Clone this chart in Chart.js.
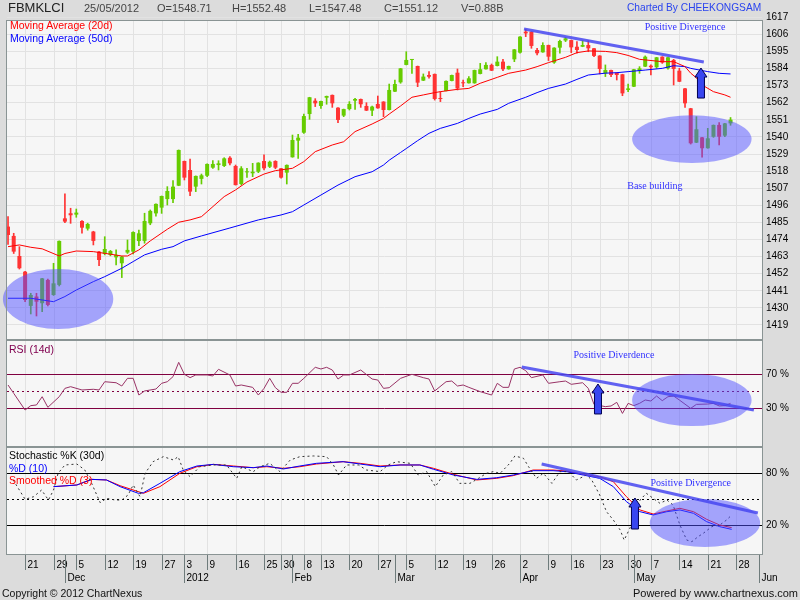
<!DOCTYPE html>
<html><head><meta charset="utf-8">
<script src="https://cdn.jsdelivr.net/npm/chart.js@4.4.1/dist/chart.umd.min.js"></script>
<style>
html,body{margin:0;padding:0;background:#dcdcdc;}
#wrap{position:relative;width:800px;height:600px;overflow:hidden;background:#dcdcdc;font-family:"Liberation Sans",Arial,sans-serif;}
canvas{position:absolute;left:0;}
.t{position:absolute;white-space:nowrap;line-height:1;}
</style></head><body>
<div id="wrap">
<canvas id="cMain" width="800" height="340" style="top:0;width:800px;height:340px"></canvas>
<canvas id="cRsi" width="800" height="107" style="top:340px;width:800px;height:107px"></canvas>
<canvas id="cSto" width="800" height="153" style="top:447px;width:800px;height:153px"></canvas>
<div class="t" style="left:8px;top:1px;font-size:13px;color:#222">FBMKLCI</div>
<div class="t" style="left:84px;top:3px;font-size:11px;color:#444">25/05/2012</div>
<div class="t" style="left:157px;top:3px;font-size:11px;color:#444">O=1548.71</div>
<div class="t" style="left:232px;top:3px;font-size:11px;color:#444">H=1552.48</div>
<div class="t" style="left:309px;top:3px;font-size:11px;color:#444">L=1547.48</div>
<div class="t" style="left:384px;top:3px;font-size:11px;color:#444">C=1551.12</div>
<div class="t" style="left:461px;top:3px;font-size:11px;color:#444">V=0.88B</div>
<div class="t" style="left:627px;top:3px;font-size:10.2px;color:#2a44ee">Charted By CHEEKONGSAM</div>
<div class="t" style="left:10px;top:20px;font-size:10.5px;color:#ff0000">Moving Average (20d)</div>
<div class="t" style="left:10px;top:33px;font-size:10.5px;color:#0000ff">Moving Average (50d)</div>
<div class="t" style="left:9px;top:344px;font-size:10.5px;color:#800050">RSI (14d)</div>
<div class="t" style="left:9px;top:450px;font-size:10.5px;color:#000">Stochastic %K (30d)</div>
<div class="t" style="left:9px;top:463px;font-size:10.5px;color:#0000ff">%D (10)</div>
<div class="t" style="left:9px;top:475px;font-size:10.5px;color:#ff0000">Smoothed %D (3)</div>
<div class="t" style="left:2px;top:588px;font-size:10.5px;color:#111">Copyright © 2012 ChartNexus</div>
<div class="t" style="right:2px;top:588px;font-size:11px;color:#111">Powered by www.chartnexus.com</div>
</div>
<script>
// ---------- DATA ----------
// trading-day index 0 = 16 Nov 2011 ... 127 = 25 May 2012 (axis runs to 1 Jun 2012 = 132)
const dayTickIdx    = [3,8,12,17,22,27,31,35,40,45,48,52,55,60,65,70,75,80,85,90,95,99,104,109,113,118,123,128];
const dayTickLabels = ['21','29','5','12','19','27','3','9','16','25','30','8','13','20','27','5','12','19','26','2','9','16','23','30','7','14','21','28'];
const monthTickIdx    = [10,31,50,68,90,110,132];
const monthTickLabels = ['Dec','2012','Feb','Mar','Apr','May','Jun'];
const priceTicks = [1617,1606,1595,1584,1573,1562,1551,1540,1529,1518,1507,1496,1485,1474,1463,1452,1441,1430,1419];
const rsiTicks = [30,70];
const stoTicks = [20,80];

const opens = [1482.3,1476.3,1463.4,1453.3,1431.3,1437.3,1433,1448,1438.3,1444.8,
 1487.6,1490.9,1490,1485.9,1481,1479.1,1466.2,1464.7,1464.1,1462.5,
 1458.7,1465.6,1466.2,1473,1473.1,1484.4,1490.8,1494.5,1500,1500,
 1508.6,1524.5,1518.7,1508,1513,1515,1520.2,1521.9,1521.3,1526.6,
 1521.3,1509.7,1517.2,1516.6,1517.6,1524.5,1520.8,1524.5,1519.8,1517,
 1526.9,1537.6,1542.7,1554.7,1563.3,1559.9,1565.2,1567,1558.8,1553.7,
 1557.9,1563.3,1564.4,1559.9,1556.9,1561.2,1562.7,1557.3,1569.1,1575.1,
 1586.3,1589.5,1585.6,1576.2,1579.8,1580.5,1564.8,1569.5,1576,1581.3,
 1574.9,1574.5,1574.5,1580.5,1583.5,1586.3,1585.6,1588.4,1583.5,1589.9,
 1594.2,1607.7,1607.7,1595.9,1594.4,1599.1,1587.8,1597.4,1602,1602.3,
 1598,1598,1599.1,1597,1592.3,1580.9,1583,1581.3,1580.3,1570.2,
 1572.3,1582.6,1585.2,1585.8,1584.8,1591.6,1584.1,1589.5,1582.6,1571.2,
 1558.4,1536.3,1539.7,1532.7,1540.1,1547.7,1540.8,1548.71];
const highs = [1488.7,1478,1469.4,1453.5,1439.4,1439.4,1449,1448.5,1458.7,1473.1,
 1503.3,1494.1,1493.6,1486.2,1484.5,1479.3,1466.4,1475.8,1467,1467.3,
 1463.2,1473.7,1479,1480,1490.9,1493,1497,1502,1508,1511.9,
 1531.6,1524.5,1525.8,1514.9,1516.1,1522.6,1524.7,1524.7,1526.6,1527.3,
 1521.9,1520.9,1519.8,1523,1523.4,1528.4,1524.5,1524.7,1519.8,1522,
 1541.2,1541.7,1554.7,1565.5,1564.6,1563.1,1566.3,1567,1558.8,1557.9,
 1562.7,1564.8,1564.4,1562,1559.9,1566.3,1562.7,1574,1576.6,1584.1,
 1594.8,1589.9,1585.6,1580.5,1582,1580.5,1569.1,1576,1579.8,1583.7,
 1576.6,1578.8,1583,1587.3,1587.8,1586.9,1591.6,1589.9,1585.6,1596.3,
 1604.5,1609.2,1607.7,1597,1600.6,1599.1,1597.4,1602.3,1604,1602.3,
 1601.3,1601.9,1601.9,1597,1592.3,1586.3,1583,1581.3,1580.3,1574,
 1583.5,1585.2,1592.1,1586.3,1591.2,1591.6,1591.2,1589.9,1584.1,1571.2,
 1558.4,1553,1539.7,1545.5,1547.7,1549.2,1548.7,1552.48];
const lows = [1470.9,1465,1455,1434,1426.1,1424.8,1427.6,1431.3,1438,1444.1,
 1484.9,1484.4,1488.3,1478,1480,1470.5,1457.2,1464.1,1463.5,1457.6,
 1449.5,1465,1464.7,1470,1471.6,1483.5,1489,1490.8,1496.2,1497.7,
 1508.6,1512.3,1502.2,1504.8,1509.7,1514.4,1519.8,1518.7,1520.9,1521.9,
 1509,1509,1514,1514.4,1517,1518.7,1520.2,1519.5,1513.4,1509.7,
 1526.9,1526.2,1542.3,1551.3,1559.5,1558.4,1561,1559,1549.2,1553,
 1557.3,1557.7,1559,1556.9,1553.7,1558.4,1553,1557.3,1569.1,1574.5,
 1586.3,1580.9,1572.3,1576.2,1577.7,1563.7,1562.7,1569.5,1576,1570.2,
 1572.3,1574.5,1574.5,1580.5,1583.5,1582.6,1585.6,1582.6,1583.5,1588.4,
 1593.8,1604.5,1597,1592.7,1594.4,1589.1,1587.3,1593.8,1601.3,1594.2,
 1593.8,1598,1594.8,1591.6,1580.5,1578.8,1578.8,1576.6,1566.5,1569.1,
 1572.3,1580.9,1585.2,1579.8,1584.1,1587.3,1583.5,1573.4,1575.5,1559,
 1535.4,1536.3,1526.9,1532.7,1539.7,1534.8,1540.1,1547.48];
const closes = [1476.9,1466.2,1455.5,1435.1,1438.3,1434,1449,1431.9,1445.8,1473.1,
 1485.5,1489.6,1491.3,1481.6,1484,1473.1,1460.8,1467.9,1466.6,1464.1,
 1463,1467.3,1478.8,1478,1485.9,1492.4,1496.9,1502,1505.2,1508,
 1531.6,1513.8,1504.8,1514.9,1515.3,1522.6,1522.6,1523,1526.2,1523,
 1509,1519.8,1517.8,1517.6,1523.4,1519.8,1524,1520.2,1513.8,1522,
 1538,1539.5,1553.4,1565.5,1561.6,1563.1,1566.3,1561.6,1550.9,1557.9,
 1561.2,1564.4,1561,1556.9,1559.5,1558.4,1557.3,1570.2,1574,1584.1,
 1589.5,1589.9,1574.9,1578.8,1578.7,1564.4,1564.4,1576,1579.8,1571.2,
 1574.5,1577.7,1583,1583.5,1586.3,1582.6,1588.4,1583.5,1585.6,1596.3,
 1604.5,1606.6,1598.5,1593.8,1599.1,1591.6,1597.4,1601.7,1603.4,1597.6,
 1595.9,1599.1,1597,1592.1,1583.7,1583,1579.8,1579.8,1568,1571.2,
 1583.5,1584.1,1591.6,1584.8,1591.2,1587.8,1591.2,1583.7,1575.5,1561.6,
 1535.9,1544.9,1532.7,1539.1,1547.7,1540.1,1548.7,1551.12];

const ma20Idx = [0,2,4,6,9,10,12,15,17,20,21,23,25,28,30,32,34,35,38,40,42,45,47,50,52,54,57,59,61,64,66,67,69,71,73,75,76,79,81,83,86,88,91,93,95,98,100,102,105,107,109,111,115,117,119,120,121,122,124,126,127];
const ma20Val = [1469.4,1470.5,1469,1468,1463.4,1465,1466.6,1466.2,1465.1,1463.4,1463.4,1467.3,1473.1,1480.6,1485.1,1486.6,1488.7,1491.9,1501.6,1505.9,1511,1516.1,1518.3,1519.8,1524.1,1530.5,1534.8,1536.9,1543.4,1548.3,1551.9,1554.7,1559.9,1565.5,1567,1568.5,1569.1,1570.6,1571.2,1574.5,1578.3,1580.9,1583,1585.2,1587.8,1591.2,1594.2,1595.3,1595,1594.2,1592.4,1589.9,1588.4,1588.4,1585.2,1581,1578,1573.4,1569.1,1567,1565.5];
const ma50Idx = [0,4,8,10,12,15,17,20,22,24,27,29,31,34,39,44,48,50,52,55,58,61,64,66,67,69,70,72,74,76,79,81,83,86,88,91,93,95,98,100,102,105,107,109,112,115,117,119,120,123,125,127];
const ma50Val = [1436.2,1436.2,1434,1437.3,1441.5,1446.9,1450.1,1455.5,1459.8,1464.1,1467.7,1469.4,1473.1,1476.3,1481.4,1486.6,1489.8,1491.9,1496.2,1502.6,1509,1514.4,1517.6,1521.9,1525,1530,1532.5,1537.6,1542.3,1545.5,1548.7,1551.9,1554.7,1557.7,1561.6,1565.5,1568.5,1571.2,1574,1577,1579.8,1581,1581.3,1582,1583,1584.1,1585.8,1585.2,1584.1,1582,1580.9,1580.5];

const rsiIdx = [0,1,3,4,5,6,7,9,10,11,13,15,16,17,19,20,21,22,23,24,26,27,28,29,30,31,32,33,35,36,37,39,40,41,43,44,45,46,47,48,49,50,51,52,54,55,56,57,58,59,60,62,64,65,66,67,69,71,73,74,75,77,78,79,80,81,83,85,86,87,88,89,90,91,92,94,95,97,98,99,101,102,103,105,106,107,108,109,110,111,112,113,114,115,116,117,118,120,121,123,124,125,126,127];
const rsiVal = [57.3,47.4,27.6,32.8,33.6,43.4,30.8,43.4,53.3,55.3,51.4,52.2,51.4,61.2,60,56.1,65.2,65.2,45.4,50.2,52.5,59.3,61.2,67.2,84.2,70,66,69.2,69.2,68,75.9,69.2,56.1,57.3,54.5,45.4,53.3,65.2,54.1,48.6,48.6,59.3,59.3,65.2,78.3,76.3,78.3,75.1,64.4,69.2,69.2,75.1,64.4,63.2,53.3,54.1,65.2,70,66,64.4,50.2,61.2,62,56.1,57.3,54.5,49.4,45.4,59.3,54.5,54.5,76.3,78.3,74.3,66,69.2,59.3,61.2,62,58.1,60,53.3,34.3,31.6,32.4,36.7,23.6,35.5,32.8,35.5,39.5,38.3,44.2,38.7,43.4,44.2,39.5,29.6,34.3,34.7,35.5,32.4,32.8,35.5];

const stoKIdx = [0.9,3,4.5,5.9,7.1,8,8.8,10,12.1,13.5,14.7,16.2,17.3,18.8,20,21.1,22,23.2,24.1,25.5,27.3,29.1,29.9,30.8,32,33.7,36.1,38.4,40.2,41.1,43.1,44.3,46,47.8,49.6,51.3,53.7,56,57.2,58.1,59.5,61.6,63,65.4,66.8,68.3,70.7,72.1,73.6,75.1,76.5,78,79.4,81.2,82.7,84.1,85.3,86.5,88.2,89.1,90.6,91.5,92.9,94.1,95.6,97,98.5,99.9,101.7,102.6,104,105.2,106.4,107.6,108.3,109.3,110.2,111.1,112.2,113.4,114.6,115.8,116.9,118.1,119.3,120.2,121.3,122.2,123.7,125.1,126.3,127.2];
const stoKVal = [72.3,50,53,60.7,49.2,60.7,80,89.6,90.7,83.8,68.4,46.1,51.1,49.2,49.2,55,66.5,53,80,93.4,99.2,95.3,99.2,83.8,76.1,87.6,89.6,89.6,74.2,87.6,81.9,87.6,91.5,81.9,95.3,99.2,100,99.2,89.6,78,89.6,89.6,83.8,81.9,89.6,93.4,91.5,78,81.9,64.6,78,81.9,68.4,68.4,74.2,80,81.9,80,91.5,100,97.3,87.6,74.2,80,68.4,81.9,81.9,72.3,78,72.3,55,35.7,26.1,14.6,3,16.5,31.9,49.2,56.9,51.1,45.3,49.2,43.4,20.3,3,1.1,6.9,10.7,18.4,20.3,26.1,31.9];
const stoDIdx = [8,12.1,14.7,17.3,19.7,22.9,23.8,26.7,30.2,33.2,36.1,39.6,43.1,45.5,48.4,51.3,54.2,58.9,61.9,65.4,68.9,72.4,74.8,78.3,82.4,85.9,88.8,92.3,95.8,98.2,101.1,104,106.4,108.7,111.1,113.4,115.8,118.1,120.5,122.8,125.1,127.2];
const stoDVal = [64.6,66.5,73,72.3,64.6,56.9,57.6,68.4,81.9,88.4,90.3,87.6,86.5,88.4,85,88.4,91.5,93.4,90.7,87.6,89.6,89.6,84.6,78,73,74.9,78,83,83,81.9,78,74.2,64.6,47.3,35.7,31.9,35.7,37.7,33.8,24.2,18.4,15.3];
const stoSDIdx = [8,12.1,14.7,17.3,19.7,23.8,26.7,30.2,33.2,36.1,39.6,43.1,45.5,48.4,51.3,54.2,58.9,61.9,65.4,68.9,72.4,74.8,78.3,82.4,85.9,88.8,92.3,95.8,98.2,101.1,104,106.4,108.7,111.1,113.4,115.8,118.1,120.5,122.8,125.1,127.2];
const stoSDVal = [64.6,66.5,73,72.3,65.7,56.9,64.6,80,87.6,90.3,88.4,86.5,87.6,85.7,87.6,90.7,93.4,91.5,88.4,89.6,89.6,85.7,78.8,72.3,74.2,77.3,83.8,83.8,82.6,78.8,76.1,70.3,53,37.7,33,36.5,39.6,35.7,26.9,20.3,17.3];

// ---------- STYLE / LAYOUT ----------
const GREEN = '#66cc00', RED = '#ff3333';
const FONT = '"Liberation Sans", Arial, sans-serif';
const X_MIN = -0.18, X_MAX = 132.53;
const FRAME = '#8a9494';
const GRID = '#e2e2e2';
const PLOT_BG = '#f6f6f6';
const SHADE = 'rgba(80,80,255,0.5)';
const TREND = 'rgba(70,70,240,0.85)';

function pts(ix, vals){ return ix.map((x,k)=>({x:x, y:vals[k]})); }
function xCfg(){ return {type:'linear', min:X_MIN, max:X_MAX, display:false, offset:false}; }
function yCfg(min, max, ticks, fmt, showGrid){
  return {type:'linear', position:'right', min:min, max:max,
    afterBuildTicks: s => { s.ticks = ticks.map(v => ({value:v})); },
    afterFit: s => { s.width = 38; s.paddingTop = 0; s.paddingBottom = 0; },
    ticks:{callback:fmt, color:'#000', font:{family:FONT, size:10}, padding:4, autoSkip:false},
    grid:{display:showGrid, color:GRID, drawTicks:false},
    border:{display:false}};
}
function px(ch, xv){ return ch.scales.x.getPixelForValue(xv); }
function py(ch, yv){ return ch.scales.y.getPixelForValue(yv); }

function hline(ctx, a, y, color, dash){
  ctx.save(); ctx.strokeStyle=color; ctx.lineWidth=1; ctx.setLineDash(dash||[]);
  const yy=Math.round(y)+0.5; ctx.beginPath(); ctx.moveTo(a.left,yy); ctx.lineTo(a.right,yy); ctx.stroke(); ctx.restore();
}
function ellipse(ch, cx, cy, rxv, ryv){
  const ctx=ch.ctx, X=px(ch,cx), Y=py(ch,cy);
  const rx=Math.abs(px(ch,cx+rxv)-X), ry=Math.abs(py(ch,cy+ryv)-Y);
  ctx.save(); ctx.fillStyle=SHADE; ctx.beginPath(); ctx.ellipse(X,Y,rx,ry,0,0,Math.PI*2); ctx.fill(); ctx.restore();
}
function trend(ch, x1,y1,x2,y2){
  const ctx=ch.ctx; ctx.save(); ctx.strokeStyle=TREND; ctx.lineWidth=3; ctx.lineCap='butt';
  ctx.beginPath(); ctx.moveTo(px(ch,x1),py(ch,y1)); ctx.lineTo(px(ch,x2),py(ch,y2)); ctx.stroke(); ctx.restore();
}
function arrow(ch, xv, tipV, baseV){
  const ctx=ch.ctx, X=px(ch,xv), T=py(ch,tipV), B=py(ch,baseV), hw=6, sw=3.5, hh=9;
  ctx.save(); ctx.beginPath();
  ctx.moveTo(X,T); ctx.lineTo(X+hw,T+hh); ctx.lineTo(X+sw,T+hh); ctx.lineTo(X+sw,B);
  ctx.lineTo(X-sw,B); ctx.lineTo(X-sw,T+hh); ctx.lineTo(X-hw,T+hh); ctx.closePath();
  ctx.fillStyle='#3846f0'; ctx.fill(); ctx.strokeStyle='#000050'; ctx.lineWidth=1; ctx.stroke(); ctx.restore();
}
function note(ch, txt, xv, yv){
  const ctx=ch.ctx; ctx.save(); ctx.font='10px "Liberation Serif", "Times New Roman", serif';
  ctx.fillStyle='#3030ff'; ctx.textAlign='center'; ctx.textBaseline='middle';
  ctx.fillText(txt, px(ch,xv), py(ch,yv)); ctx.restore();
}

function panelPlugin(refLines, annot, drawAxis){
  return {
    id:'panel',
    beforeDraw(ch){
      const ctx=ch.ctx, a=ch.chartArea;
      ctx.save(); ctx.fillStyle=PLOT_BG; ctx.fillRect(a.left,a.top,a.right-a.left,a.bottom-a.top);
      ctx.strokeStyle=GRID; ctx.lineWidth=1;
      dayTickIdx.forEach(i=>{ const x=Math.round(px(ch,i))+0.5; ctx.beginPath(); ctx.moveTo(x,a.top); ctx.lineTo(x,a.bottom); ctx.stroke(); });
      ctx.restore();
    },
    beforeDatasetsDraw(ch){
      const a=ch.chartArea;
      refLines.forEach(r=>hline(ch.ctx, a, py(ch,r.v), r.c, r.d));
    },
    afterDatasetsDraw(ch){ annot(ch); },
    afterDraw(ch){
      const ctx=ch.ctx, a=ch.chartArea;
      ctx.save(); ctx.strokeStyle=FRAME; ctx.lineWidth=1;
      ctx.strokeRect(Math.round(a.left)-0.5, Math.round(a.top)+0.5, Math.round(a.right-a.left)+1, Math.round(a.bottom-a.top)-1);
      ctx.restore();
      if(drawAxis){
        ctx.save(); ctx.strokeStyle='#6e7b7b'; ctx.fillStyle='#000'; ctx.lineWidth=1;
        ctx.font='10px '+FONT; ctx.textAlign='left'; ctx.textBaseline='middle';
        const b=Math.round(a.bottom);
        dayTickIdx.forEach((i,k)=>{ const x=Math.round(px(ch,i))+0.5;
          ctx.beginPath(); ctx.moveTo(x,b); ctx.lineTo(x,b+15); ctx.stroke();
          ctx.fillText(dayTickLabels[k], x+2, b+10); });
        monthTickIdx.forEach((i,k)=>{ const x=Math.round(px(ch,i))+0.5;
          ctx.beginPath(); ctx.moveTo(x,b); ctx.lineTo(x,b+28); ctx.stroke();
          ctx.fillText(monthTickLabels[k], x+2, b+23); });
        ctx.restore();
      }
    }
  };
}

const common = {responsive:false, animation:false, events:[],
  plugins:{legend:{display:false}, tooltip:{enabled:false}}};

// ---------- MAIN PRICE CHART ----------
const candleColor = c => closes[c.dataIndex] >= opens[c.dataIndex] ? GREEN : RED;
new Chart(document.getElementById('cMain'), {
  type:'bar',
  data:{datasets:[
    {type:'line', data:pts(ma20Idx, ma20Val), borderColor:'#ff0000', borderWidth:1, pointRadius:0, order:0},
    {type:'line', data:pts(ma50Idx, ma50Val), borderColor:'#0000ff', borderWidth:1, pointRadius:0, order:0},
    {data:opens.map((o,i)=>({x:i, y:[o, closes[i]]})), backgroundColor:candleColor, grouped:false,
      categoryPercentage:1, barPercentage:0.75, maxBarThickness:4, minBarLength:1, borderWidth:0, order:1},
    {data:lows.map((l,i)=>({x:i, y:[l, highs[i]]})), backgroundColor:candleColor, grouped:false,
      categoryPercentage:1, barPercentage:1, maxBarThickness:1, borderWidth:0, order:2}
  ]},
  options:Object.assign({}, common, {
    layout:{padding:{left:7, right:0, top:20, bottom:0}},
    scales:{x:xCfg(), y:yCfg(1409.35, 1615.2, priceTicks, v=>String(v), true)}
  }),
  plugins:[panelPlugin([], ch=>{
    ellipse(ch, 8.8, 1435.7, 9.7, 19.3);
    ellipse(ch, 120.2, 1538.6, 10.5, 15.4);
    trend(ch, 90.7, 1609.4, 122.3, 1588.2);
    arrow(ch, 121.8, 1584.3, 1565);
    note(ch, 'Positive Divergence', 119, 1610.7);
    note(ch, 'Base building', 113.7, 1508.4);
  }, false)]
});

// ---------- RSI ----------
new Chart(document.getElementById('cRsi'), {
  type:'line',
  data:{datasets:[
    {data:pts(rsiIdx, rsiVal), borderColor:'#993366', borderWidth:1, pointRadius:0}
  ]},
  options:Object.assign({}, common, {
    layout:{padding:{left:7, right:0, top:0, bottom:0}},
    scales:{x:xCfg(), y:yCfg(-16.29, 110.71, rsiTicks, v=>v+' %', false)}
  }),
  plugins:[panelPlugin([{v:70,c:'#800040'},{v:30,c:'#800040'},{v:50,c:'#800040',d:[2,3]}], ch=>{
    ellipse(ch, 120.2, 39.5, 10.5, 31);
    trend(ch, 90.3, 78.7, 131.1, 27.6);
    arrow(ch, 103.7, 58.5, 22.9);
    note(ch, 'Positive Diverdence', 106.5, 93);
  }, false)]
});

// ---------- STOCHASTIC ----------
new Chart(document.getElementById('cSto'), {
  type:'line',
  data:{datasets:[
    {data:pts(stoKIdx, stoKVal), borderColor:'#333333', borderWidth:1, borderDash:[2,3], pointRadius:0},
    {data:pts(stoDIdx, stoDVal), borderColor:'#0000ff', borderWidth:1, pointRadius:0},
    {data:pts(stoSDIdx, stoSDVal), borderColor:'#ff0000', borderWidth:1, pointRadius:0}
  ]},
  options:Object.assign({}, common, {
    layout:{padding:{left:7, right:0, top:0, bottom:45}},
    scales:{x:xCfg(), y:yCfg(-14.27, 110.34, stoTicks, v=>v+' %', false)}
  }),
  plugins:[panelPlugin([{v:80,c:'#000'},{v:20,c:'#000'},{v:50,c:'#000',d:[2,3]}], ch=>{
    ellipse(ch, 122.5, 22.7, 9.7, 27.7);
    trend(ch, 93.8, 90.7, 131.8, 34.2);
    arrow(ch, 110.2, 51.5, 15.7);
    note(ch, 'Positive Divergence', 120, 68.8);
  }, true)]
});
</script>
</body></html>
